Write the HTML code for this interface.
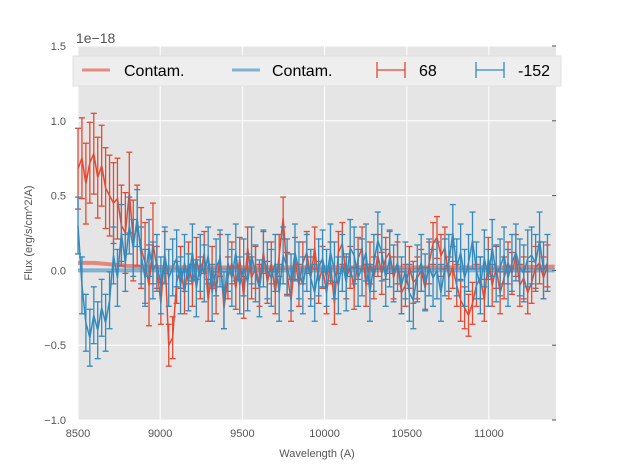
<!DOCTYPE html>
<html><head><meta charset="utf-8"><style>
body{margin:0;background:#fff;width:617px;height:467px;overflow:hidden}
svg text{font-family:"Liberation Sans",sans-serif}
</style></head><body>
<svg id="c" width="617" height="467"></svg>
<script>
const xStart=8500, xStep=24;
const redVals=[0.68,0.75,0.58,0.72,0.78,0.62,0.70,0.55,0.50,0.45,0.48,0.30,0.25,0.52,0.20,0.30,0.15,
0.05,-0.10,0.18,0.02,-0.22,0.12,-0.50,-0.45,-0.08,0.02,-0.15,0.05,-0.10,
0.08,-0.05,0.12,-0.20,0.02,-0.15,0.10,-0.25,-0.05,0.05,-0.12,0.08,-0.18,0.15,-0.05,0.02,-0.10,0.12,-0.08,0.05,
-0.15,0.10,0.35,-0.02,-0.20,0.08,-0.10,0.05,0.12,-0.05,
0.15,-0.08,0.02,-0.15,0.05,-0.22,0.12,0.18,-0.05,0.02,-0.12,0.08,0.15,-0.10,0.05,-0.05,0.10,-0.02,0.08,0.12,
-0.05,0.05,-0.15,-0.10,0.02,-0.08,-0.05,0.00,-0.12,0.05,0.18,0.22,0.10,0.15,-0.05,0.02,-0.10,-0.20,-0.25,-0.30,
-0.22,-0.10,-0.05,-0.20,0.08,-0.10,0.02,-0.15,-0.05,0.05,-0.02,0.10,-0.10,-0.05,-0.15,-0.08,0.02,0.05,-0.05,0.03];
const blueVals=[0.30,-0.10,-0.35,-0.45,-0.30,-0.40,-0.25,-0.35,-0.20,0.10,-0.05,0.25,0.05,0.30,0.15,0.35,0.10,
-0.05,0.15,0.00,0.05,-0.10,0.10,-0.05,0.02,0.08,-0.10,0.05,-0.08,0.12,
-0.12,0.05,-0.02,0.10,-0.15,0.02,0.08,-0.20,0.05,-0.05,0.12,-0.10,0.02,-0.08,0.10,-0.02,-0.12,0.08,0.00,-0.05,
0.05,-0.15,0.10,0.02,-0.08,0.12,0.00,-0.10,0.05,-0.05,
-0.15,0.02,0.08,-0.05,0.12,0.00,-0.10,0.05,-0.08,0.15,0.10,-0.05,0.02,0.12,-0.15,0.05,0.20,0.12,-0.05,0.08,
-0.02,0.05,-0.10,0.00,-0.15,-0.20,-0.02,0.05,-0.08,0.02,-0.05,0.00,-0.15,0.02,0.05,0.25,0.02,0.12,-0.05,0.05,
0.20,0.00,-0.10,0.08,-0.05,0.15,-0.02,0.02,0.10,-0.05,0.05,0.12,0.02,-0.02,0.08,0.10,0.05,0.20,0.00,0.05];
const redErr=redVals.map((v,i)=>i<20?0.27:0.14);
const blueErr=blueVals.map(()=>0.19);
const contamRed=[0.05,0.05,0.04,0.03,0.025,0.02,0.02,0.02,0.02,0.02,0.02,0.02,0.025];
const contamBlue=[0.0,0.0,0.0,0.0,0.0,0.0,0.0,0.0,0.0,0.0,0.0,0.0,0.0];
const contamX=[8500,8600,8700,8800,8900,9100,9400,9700,10000,10400,10800,11100,11400];
const xTicks=[8500,9000,9500,10000,10500,11000];
const yTicks=[-1.0,-0.5,0.0,0.5,1.0,1.5];

const L=78,R=556,T=46,B=420;
const X=v=>L+(v-8500)/(11408-8500)*(R-L);
const Y=v=>B-(v+1)/2.5*(B-T);
const s=document.getElementById('c');
const NS='http://www.w3.org/2000/svg';
function el(t,a,p){const e=document.createElementNS(NS,t);for(const k in a)e.setAttribute(k,a[k]);(p||s).appendChild(e);return e;}
const bg=el('rect',{x:L,y:T,width:R-L,height:B-T,fill:'#e5e5e5'});


xTicks.forEach(t=>{
  const g=el('line',{x1:X(t),x2:X(t),y1:T,y2:B,stroke:'#fff','stroke-width':1});
  
  
  const tx=el('text',{x:X(t),y:B+17,'text-anchor':'middle','font-size':11,fill:'#555'});tx.textContent=t;
  
  
});
yTicks.forEach(t=>{
  const g=el('line',{x1:L,x2:R,y1:Y(t),y2:Y(t),stroke:'#fff','stroke-width':1});
  
  
  const tx=el('text',{x:L-12,y:Y(t)+4,'text-anchor':'end','font-size':11,fill:'#555'});tx.textContent=t.toFixed(1).replace('-','\u2212');
  
  
  const tk=el('line',{x1:R,x2:R-4,y1:Y(t),y2:Y(t),stroke:'#555'});
  
  
});
function contam(vals,color,name){
  const p=el('polyline',{points:vals.map((v,i)=>X(contamX[i])+','+Y(v)).join(' '),fill:'none',stroke:color,'stroke-width':4,'stroke-opacity':0.6});
  
  
}
contam(contamRed,'#E24A33','contam-line-68');
contam(contamBlue,'#348ABD','contam-line-152');
function series(vals,errs,color,name){
  const g=el('g',{});
  
  
  vals.forEach((v,i)=>{
    const x=X(xStart+i*xStep),y1=Y(v-errs[i]),y2=Y(v+errs[i]);
    el('line',{x1:x,x2:x,y1:y1,y2:y2,stroke:color,'stroke-width':1.3},g);
    el('line',{x1:x-3,x2:x+3,y1:y1,y2:y1,stroke:color,'stroke-width':1.3},g);
    el('line',{x1:x-3,x2:x+3,y1:y2,y2:y2,stroke:color,'stroke-width':1.3},g);
  });
  el('polyline',{points:vals.map((v,i)=>X(xStart+i*xStep)+','+Y(v)).join(' '),fill:'none',stroke:color,'stroke-width':1.5},g);
}
series(redVals,redErr,'#E24A33','series-68');
series(blueVals,blueErr,'#348ABD','series-152');
</script>
<svg width="617" height="467" style="position:absolute;left:0;top:0">
<text x="76" y="43" font-size="14" fill="#555">1e−18</text>
<g>
<rect x="73" y="56" width="488" height="30" fill="#eeeeee" stroke="#e0e0e0"/>
<line x1="82" x2="110" y1="70" y2="70" stroke="#E24A33" stroke-opacity="0.6" stroke-width="3"/>
<text x="124" y="76" font-size="16" fill="#000">Contam.</text>
<line x1="232" x2="260" y1="70" y2="70" stroke="#348ABD" stroke-opacity="0.6" stroke-width="3"/>
<text x="272" y="76" font-size="16" fill="#000">Contam.</text>
<g stroke="#E24A33" stroke-width="1.3"><line x1="377" x2="405" y1="70" y2="70"/><line x1="377" x2="377" y1="62" y2="78"/><line x1="405" x2="405" y1="62" y2="78"/></g>
<text x="419" y="76" font-size="16" fill="#000">68</text>
<g stroke="#348ABD" stroke-width="1.3"><line x1="476" x2="504" y1="70" y2="70"/><line x1="476" x2="476" y1="62" y2="78"/><line x1="504" x2="504" y1="62" y2="78"/></g>
<text x="518" y="76" font-size="16" fill="#000">-152</text>
</g>
<text x="317" y="457" text-anchor="middle" font-size="11" fill="#555">Wavelength (A)</text>
<text transform="translate(32,233) rotate(-90)" text-anchor="middle" font-size="11" fill="#555">Flux (erg/s/cm^2/A)</text>
</svg>
</body></html>
